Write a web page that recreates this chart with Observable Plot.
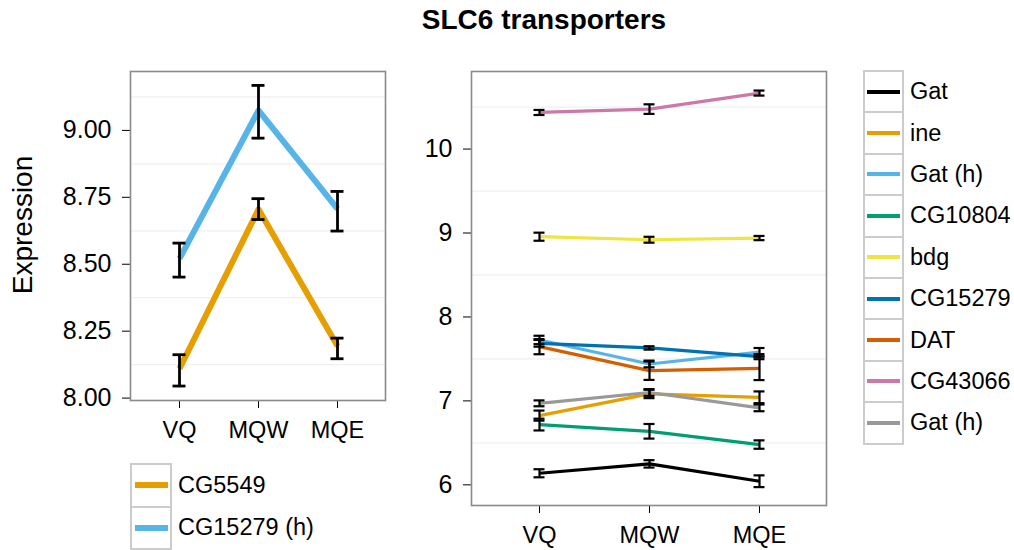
<!DOCTYPE html>
<html>
<head>
<meta charset="utf-8">
<script src="https://cdn.jsdelivr.net/npm/d3@7"></script>
<script src="https://cdn.jsdelivr.net/npm/@observablehq/plot@0.6"></script>
<style>
  html, body { margin: 0; padding: 0; background: #fff; }
  #wrap { position: relative; width: 1014px; height: 550px; overflow: hidden; font-family: "Liberation Sans", Arial, Helvetica, sans-serif; color: #000; }
  #wrap > .abs { position: absolute; }
  #wrap svg [aria-label^="y-axis"] text { font-size: 25px; }
  .title { font-weight: bold; font-size: 28px; line-height: 28px; height: 28px; text-align: center; white-space: nowrap; }
  .ylab { font-size: 28px; line-height: 28px; height: 28px; width: 300px; text-align: center; transform: rotate(-90deg); white-space: nowrap; }
  .legend .row { position: absolute; left: 0; display: flex; align-items: center; }
  .legend .key { box-sizing: border-box; border: 2px solid #cccccc; background: #fff; display: flex; align-items: center; justify-content: center; }
  .legend .label { font-size: 23.5px; padding-left: 6px; white-space: nowrap; }
</style>
</head>
<body>
<div id="wrap"></div>
<script>
// ---------- data ----------
const conditions = ["VQ", "MQW", "MQE"];

const leftGenes  = ["CG5549", "CG15279 (h)"];
const leftColors = ["#E69F00", "#56B4E9"];
const leftMean = [
  [8.110, 8.705, 8.195],
  [8.521, 9.075, 8.707]
];
const leftLow = [
  [8.045, 8.667, 8.147],
  [8.452, 8.971, 8.624]
];
const leftHigh = [
  [8.162, 8.745, 8.224],
  [8.579, 9.168, 8.772]
];
const leftYTicks = [8.00, 8.25, 8.50, 8.75, 9.00];
const leftGrid = [8.125, 8.375, 8.625, 8.875, 9.125];

const rightGenes  = ["Gat", "ine", "Gat (h)", "CG10804", "bdg", "CG15279", "DAT", "CG43066", "Gat (h)"];
const rightColors = ["#000000", "#E69F00", "#56B4E9", "#009E73", "#F0E442", "#0072B2", "#D55E00", "#CC79A7", "#999999"];
const rightMean = [
  [6.138, 6.250, 6.043],
  [6.825, 7.083, 7.043],
  [7.726, 7.440, 7.580],
  [6.718, 6.638, 6.480],
  [8.956, 8.920, 8.940],
  [7.686, 7.631, 7.527],
  [7.646, 7.360, 7.388],
  [10.436, 10.476, 10.667],
  [6.971, 7.100, 6.917]
];
const rightErr = [
  [0.048, 0.044, 0.070],
  [0.060, 0.050, 0.070],
  [0.050, 0.040, 0.050],
  [0.070, 0.087, 0.050],
  [0.048, 0.035, 0.025],
  [0.040, 0.020, 0.030],
  [0.090, 0.110, 0.140],
  [0.030, 0.057, 0.030],
  [0.035, 0.040, 0.040]
];
const rightYTicks = [6, 7, 8, 9, 10];
const rightGrid = [6.5, 7.5, 8.5, 9.5, 10.5];

// ---------- build tables ----------
const leftRows = [];
leftGenes.forEach((g, i) => conditions.forEach((c, j) => leftRows.push({
  gene: g, idx: i, color: leftColors[i], cond: c,
  mean: leftMean[i][j], lo: leftLow[i][j], hi: leftHigh[i][j]
})));
const rightRows = [];
rightGenes.forEach((g, i) => conditions.forEach((c, j) => rightRows.push({
  gene: g, idx: i, color: rightColors[i], cond: c,
  mean: rightMean[i][j], lo: rightMean[i][j] - rightErr[i][j], hi: rightMean[i][j] + rightErr[i][j]
})));

const fontFamily = '"Liberation Sans", Arial, Helvetica, sans-serif';
const wrap = document.getElementById("wrap");

function panel({rows, width, height, margins, yDomain, yTicks, yFormat, grid, lineWidth, barWidth, capHalf}) {
  return Plot.plot({
    width, height,
    marginLeft: margins[0], marginRight: margins[1], marginTop: margins[2], marginBottom: margins[3],
    style: {fontFamily, fontSize: "23.5px", color: "#000", background: "transparent", overflow: "visible"},
    x: {type: "point", domain: conditions, padding: 0.6, label: null, tickSize: 8, tickPadding: 13},
    y: {domain: yDomain, ticks: yTicks, tickFormat: yFormat, label: null, tickSize: 8, tickPadding: 11},
    color: {type: "identity"},
    marks: [
      Plot.ruleY(grid, {stroke: "#f0f0f0", strokeWidth: 1.3}),
      Plot.line(rows, {x: "cond", y: "mean", z: "idx", stroke: "color", strokeWidth: lineWidth, strokeLinejoin: "round", strokeLinecap: "butt"}),
      Plot.ruleX(rows, {x: "cond", y1: "lo", y2: "hi", stroke: "#000", strokeWidth: barWidth}),
      Plot.ruleY(rows, {y: "lo", x1: "cond", x2: "cond", insetLeft: -capHalf, insetRight: -capHalf, stroke: "#000", strokeWidth: barWidth}),
      Plot.ruleY(rows, {y: "hi", x1: "cond", x2: "cond", insetLeft: -capHalf, insetRight: -capHalf, stroke: "#000", strokeWidth: barWidth}),
      Plot.frame({stroke: "#8a8a8a", strokeWidth: 1.6})
    ]
  });
}

const leftPlot = panel({
  rows: leftRows, width: 400, height: 470, margins: [130, 15, 71, 70],
  yDomain: [7.991, 9.22], yTicks: leftYTicks, yFormat: d => d.toFixed(2),
  grid: leftGrid, lineWidth: 6, barWidth: 2.8, capHalf: 6.5
});
leftPlot.classList.add("abs");
leftPlot.style.left = "0px"; leftPlot.style.top = "0px";
wrap.appendChild(leftPlot);

const rightPlot = panel({
  rows: rightRows, width: 440, height: 550, margins: [71, 14, 71, 45],
  yDomain: [5.754, 10.924], yTicks: rightYTicks, yFormat: d => String(d),
  grid: rightGrid, lineWidth: 3.2, barWidth: 2.2, capHalf: 5.5
});
rightPlot.classList.add("abs");
rightPlot.style.left = "400px"; rightPlot.style.top = "0px";
wrap.appendChild(rightPlot);

// ---------- title & axis title ----------
const title = document.createElement("div");
title.className = "abs title";
title.textContent = "SLC6 transporters";
title.style.left = (544 - 300) + "px"; title.style.width = "600px"; title.style.top = "6px";
wrap.appendChild(title);

const ylab = document.createElement("div");
ylab.className = "abs ylab";
ylab.textContent = "Expression";
ylab.style.left = (23 - 150) + "px"; ylab.style.top = (225 - 14) + "px";
wrap.appendChild(ylab);

// ---------- legends ----------
function legend(names, colors, {left, top, keyW, rowH, lineW, lineH}) {
  const el = document.createElement("div");
  el.className = "abs legend";
  el.style.left = left + "px"; el.style.top = top + "px";
  names.forEach((n, i) => {
    const row = document.createElement("div");
    row.className = "row";
    row.style.top = (i * rowH) + "px";
    row.style.height = (rowH + 2) + "px";
    const key = document.createElement("div");
    key.className = "key";
    key.style.width = keyW + "px"; key.style.height = (rowH + 2) + "px";
    const ln = document.createElement("div");
    ln.style.width = lineW + "px"; ln.style.height = lineH + "px"; ln.style.background = colors[i];
    key.appendChild(ln);
    const lab = document.createElement("div");
    lab.className = "label";
    lab.textContent = n;
    row.appendChild(key); row.appendChild(lab);
    el.appendChild(row);
  });
  wrap.appendChild(el);
}
legend(leftGenes, leftColors, {left: 130, top: 463, keyW: 42, rowH: 42.5, lineW: 33, lineH: 6});
legend(rightGenes, rightColors, {left: 863, top: 70, keyW: 41, rowH: 41.4, lineW: 33, lineH: 4});
</script>
</body>
</html>
